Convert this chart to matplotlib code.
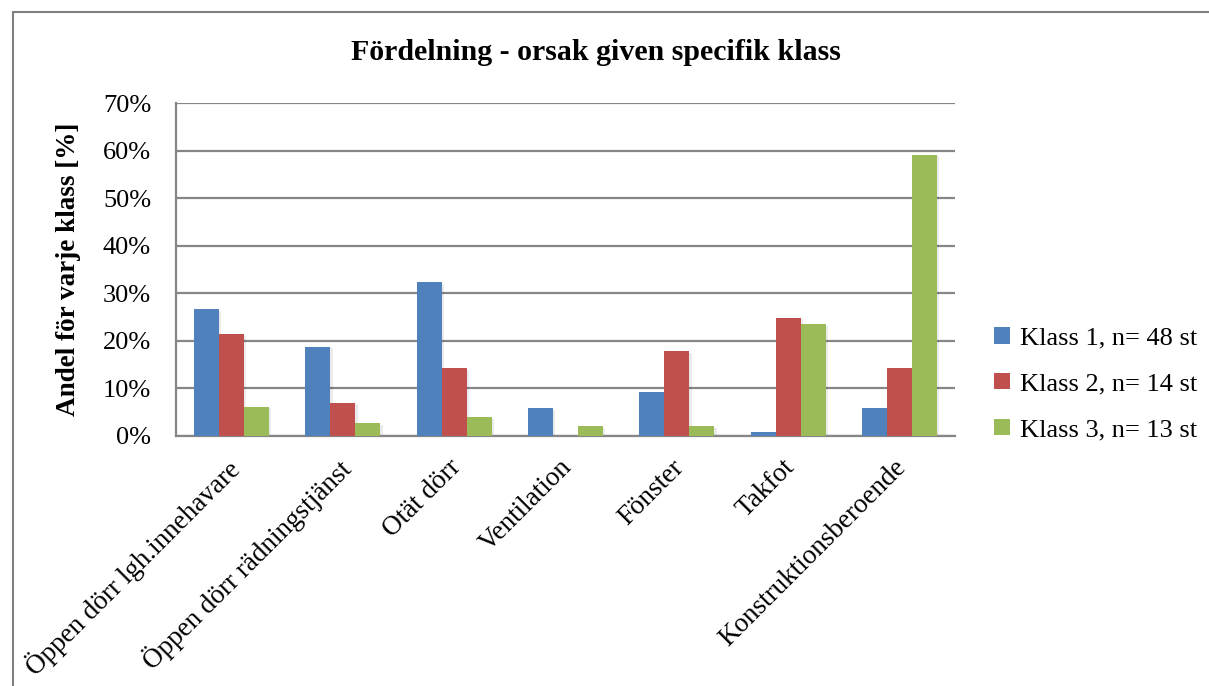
import matplotlib
matplotlib.use("Agg")
import matplotlib.pyplot as plt
import matplotlib.transforms as mtransforms
import numpy as np
from matplotlib import patches

categories = ["Öppen dörr lgh.innehavare", "Öppen dörr rädningstjänst", "Otät dörr",
              "Ventilation", "Fönster", "Takfot", "Konstruktionsberoende"]
klass1 = [26.6, 18.7, 32.3, 5.8, 9.3, 0.9, 5.8]
klass2 = [21.4, 7.0, 14.2, 0.0, 17.8, 24.8, 14.2]
klass3 = [6.2, 2.7, 3.9, 2.0, 2.0, 23.5, 59.1]
series_names = ["Klass 1, n= 48 st", "Klass 2, n= 14 st", "Klass 3, n= 13 st"]
colors = ["#4F81BD", "#C0504D", "#9BBB59"]

plt.rcParams['font.family'] = ['Liberation Serif', 'DejaVu Serif']

W, H = 1209, 686
fig = plt.figure(figsize=(W / 100, H / 100), dpi=100)
fig.patches.append(patches.Rectangle((13 / W, -0.1), 1.2, 1 - 12 / H + 0.1,
                                     transform=fig.transFigure, fill=False,
                                     edgecolor='#808080', linewidth=1.5))

ax = fig.add_axes([176 / W, 1 - 436 / H, (955 - 176) / W, (436 - 103) / H])

x = np.arange(len(categories))
bw = 0.225
for i, (vals, c, name) in enumerate(zip([klass1, klass2, klass3], colors, series_names)):
    pos = x + (i - 1) * bw
    # soft drop shadow behind each bar
    ax.bar(pos + 0.02, vals, bw, bottom=-0.3, color='#000000', alpha=0.08, zorder=2)
    ax.bar(pos, vals, bw, color=c, label=name, zorder=3)

ax.set_xlim(-0.5, len(categories) - 0.5)
ax.set_ylim(0, 70)
ax.set_yticks(np.arange(0, 71, 10))
ax.set_yticklabels([f"{v}%" for v in range(0, 71, 10)], fontsize=19)
ax.yaxis.grid(True, color='#868686', linewidth=1.6, zorder=0)
ax.set_axisbelow(True)
for s in ['top', 'right']:
    ax.spines[s].set_visible(False)
ax.spines['left'].set_color('#868686')
ax.spines['bottom'].set_color('#868686')
ax.spines['left'].set_linewidth(1.6)
ax.spines['bottom'].set_linewidth(1.6)
ax.tick_params(axis='y', length=0, pad=18)
ax.tick_params(axis='x', length=0, pad=10)
ax.set_xticks(x)
ax.set_xticklabels(categories, rotation=45, ha='right', rotation_mode='anchor', fontsize=19.5)
shift = mtransforms.ScaledTranslation(-0.06, -0.05, fig.dpi_scale_trans)
for lab in ax.get_xticklabels():
    lab.set_transform(lab.get_transform() + shift)

ax.set_ylabel("Andel för varje klass [%]", fontsize=19.5, fontweight='bold', labelpad=16)
fig.text(596 / W, 1 - 53 / H, "Fördelning - orsak given specifik klass",
         fontsize=21.5, fontweight='bold', ha='center', va='center')

fig.legend(loc='center left', bbox_to_anchor=(970 / W, 1 - 384 / H), frameon=False,
           fontsize=19, handlelength=0.6, handleheight=0.6, labelspacing=0.88,
           handletextpad=0.4)

fig.savefig("out.png", dpi=100)
